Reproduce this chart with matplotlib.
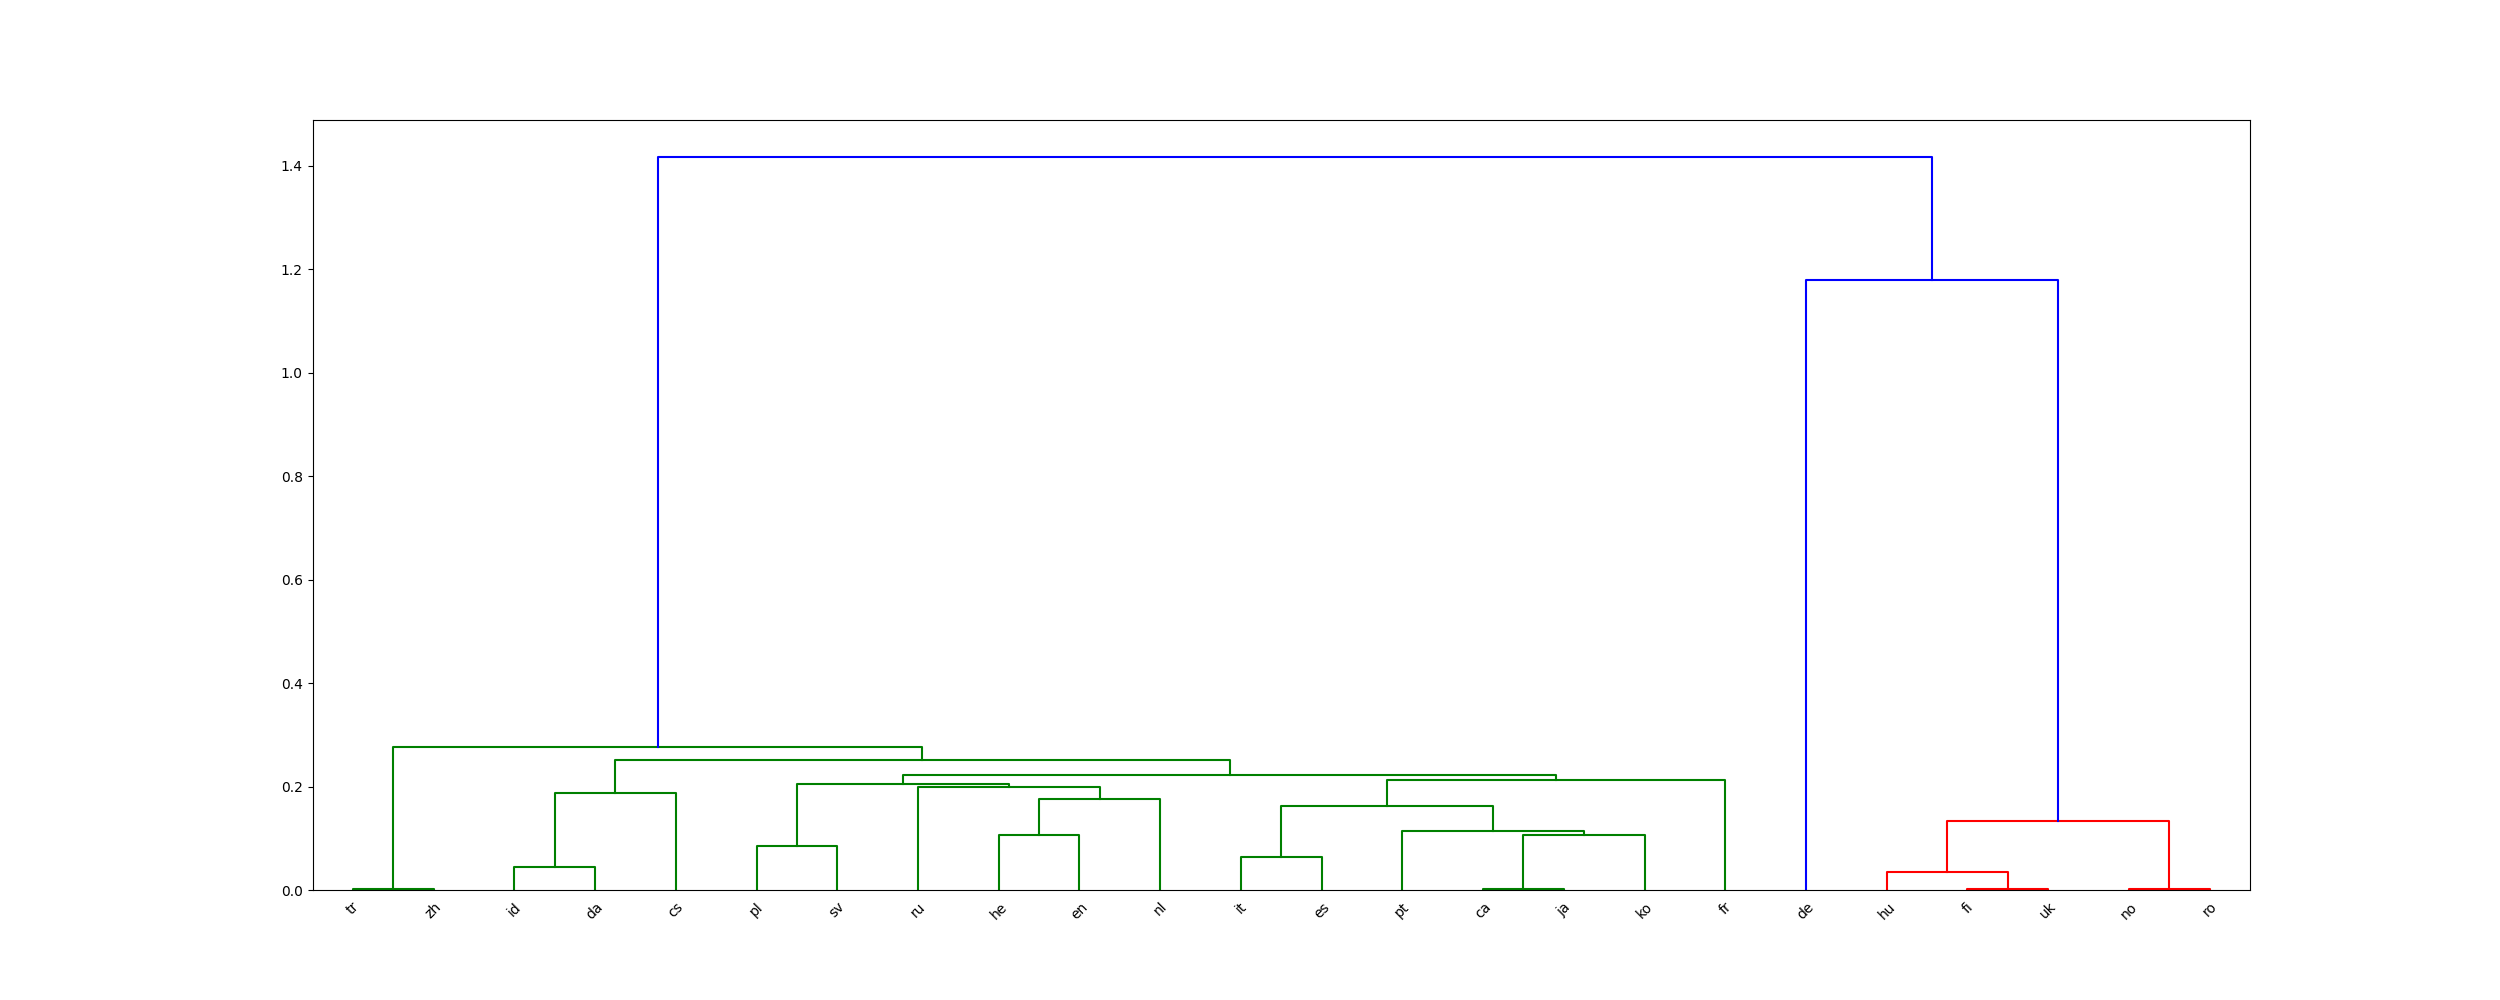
import numpy as np
import matplotlib
matplotlib.use('Agg')
from matplotlib import pyplot as plt

# leaf labels, left to right
labels = ['tr', 'zh', 'id', 'da', 'cs', 'pl', 'sv', 'ru', 'he', 'en', 'nl', 'it',
          'es', 'pt', 'ca', 'ja', 'ko', 'fr', 'de', 'hu', 'fi', 'uk', 'no', 'ro']

# merges: children are leaf names or earlier merge indices
merge_a = ['tr', 'id', 1, 'pl', 'he', 4, 'ru', 3, 'it', 'ca', 9, 'pt', 8, 12, 7, 2, 0,
           'fi', 'hu', 'no', 18, 'de', 16]
merge_b = ['zh', 'da', 'cs', 'sv', 'en', 'nl', 5, 6, 'es', 'ja', 'ko', 10, 11, 'fr', 13, 14, 15,
           'uk', 17, 'ro', 19, 20, 21]
merge_h = [0.001, 0.044, 0.187, 0.085, 0.106, 0.176, 0.199, 0.204, 0.063, 0.001, 0.107,
           0.115, 0.1615, 0.2126, 0.222, 0.251, 0.2766,
           0.001, 0.034, 0.001, 0.133, 1.18, 1.418]

cluster_colors = ['g', 'r']
above_color = 'b'
threshold = 0.7 * max(merge_h)

leaf_x = {lab: 5 + 10 * i for i, lab in enumerate(labels)}

def pos(node):
    # x, y of a node's top
    if isinstance(node, str):
        return leaf_x[node], 0.0
    a, b = merge_a[node], merge_b[node]
    return (pos(a)[0] + pos(b)[0]) / 2.0, merge_h[node]

# colour of each merge
colors = {}
counter = [0]

def paint(node, col):
    if isinstance(node, str):
        return
    colors[node] = col
    paint(merge_a[node], col)
    paint(merge_b[node], col)

def assign(node):
    if isinstance(node, str):
        return
    if merge_h[node] < threshold:
        paint(node, cluster_colors[counter[0] % len(cluster_colors)])
        counter[0] += 1
        return
    colors[node] = above_color
    assign(merge_a[node])
    assign(merge_b[node])

root = len(merge_h) - 1
assign(root)

fig = plt.figure(figsize=(25, 10), dpi=100)
ax = fig.add_subplot(111)

for i in range(len(merge_h)):
    xa, ya = pos(merge_a[i])
    xb, yb = pos(merge_b[i])
    h = merge_h[i]
    ax.plot([xa, xa, xb, xb], [ya, h, h, yb], color=colors[i], linewidth=1.5)

ax.set_xlim(0, 10 * len(labels))
ax.set_ylim(0, max(merge_h) * 1.05)
ax.set_xticks([leaf_x[l] for l in labels])
ax.set_xticklabels(labels, rotation=45, fontsize=10)
for line in ax.get_xticklines():
    line.set_visible(False)

plt.savefig('out.png')
